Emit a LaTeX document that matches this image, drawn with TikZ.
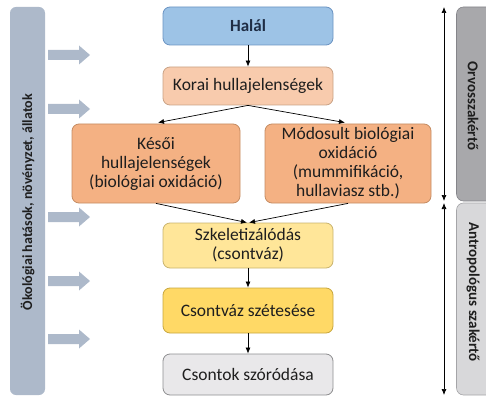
\documentclass[tikz,border=0pt]{standalone}
\usepackage{fontspec}
\setmainfont{Carlito}
\usetikzlibrary{arrows.meta,calc}
\definecolor{halfill}{HTML}{9DC3E6}
\definecolor{haldraw}{HTML}{6A93C2}
\definecolor{korfill}{HTML}{F8CBAD}
\definecolor{kordraw}{HTML}{C9A285}
\definecolor{kesfill}{HTML}{F4B183}
\definecolor{kesdraw}{HTML}{C48C62}
\definecolor{szkfill}{HTML}{FFE699}
\definecolor{szkdraw}{HTML}{C9B36E}
\definecolor{csvfill}{HTML}{FFD966}
\definecolor{csvdraw}{HTML}{C7A63E}
\definecolor{csofill}{HTML}{E9E8EA}
\definecolor{csodraw}{HTML}{8E8E90}
\definecolor{leftbar}{HTML}{ADB9CA}
\definecolor{orvfill}{HTML}{A8A8AB}
\definecolor{orvdraw}{HTML}{85858A}
\definecolor{antfill}{HTML}{D8D8DA}
\definecolor{antdraw}{HTML}{A5A5A8}
\definecolor{txt}{HTML}{1E1E1E}
\definecolor{haltxt}{HTML}{1F2D45}
\tikzset{
  box/.style={draw, rounded corners=7pt, line width=0.8pt, align=center,
    text=txt, font=\fontsize{17.5}{19}\selectfont, inner sep=1pt},
  conn/.style={-{Latex[length=6pt,width=5pt]}, line width=0.7pt, black},
  dbl/.style={{Latex[length=6pt,width=5pt]}-{Latex[length=6pt,width=5pt]}, line width=0.7pt, black},
  sidetxt/.style={font=\bfseries\fontsize{15}{18}\selectfont, text=txt},
  blockarrow/.style={fill=leftbar}
}
\begin{document}
\begin{tikzpicture}[x=1pt,y=-1pt]
\useasboundingbox (0,0) rectangle (486,398);
\clip (0,0) rectangle (486,398);
% left bar
\node[fill=leftbar, rounded corners=6pt, minimum width=35pt, minimum height=388pt, inner sep=0pt] (lb) at (27.5,201) {};
\node[sidetxt, font=\bfseries\fontsize{14}{17}\selectfont, rotate=90] (lbt) at (27.5,202) {Ökológiai hatások, növényzet, állatok};
% block arrows
\foreach \yy/\nm in {55/a1,109/a2,217/a3,281/a4,339/a5}{
  \coordinate (\nm) at (48,\yy);
  \fill[blockarrow] ($(\nm)+(0,-5)$) -- ++(31,0) -- ++(0,-4.5) -- ++(11,9.5) -- ++(-11,9.5) -- ++(0,-4.5) -- ++(-31,0) -- cycle;
}
% right bars
\node[fill=orvfill, draw=orvdraw, line width=0.6pt, rounded corners=7pt, minimum width=45pt, minimum height=194pt, inner sep=0pt] (ob) at (479,104) {};
\node[sidetxt, rotate=-90] (obt) at (473,106) {Orvosszakértő};
\node[fill=antfill, draw=antdraw, line width=0.6pt, rounded corners=7pt, minimum width=45pt, minimum height=192pt, inner sep=0pt] (ab) at (479,299) {};
\node[sidetxt, rotate=-90] (abt) at (473,292) {Antropológus szakértő};
% double arrows
\coordinate (o1) at (444,7);
\coordinate (o2) at (444,201);
\coordinate (a1e) at (444,203);
\coordinate (a2e) at (444,395);
\draw[dbl] (o1) -- (o2);
\draw[dbl] (a1e) -- (a2e);
% main boxes
\node[box, fill=halfill, draw=haldraw, minimum width=170pt, minimum height=38pt, font=\bfseries\fontsize{17}{19}\selectfont, text=haltxt] (hal) at (248,26) {Halál};
\node[box, fill=korfill, draw=kordraw, minimum width=170pt, minimum height=38pt] (kor) at (248,86) {Korai hullajelenségek};
\node[box, fill=kesfill, draw=kesdraw, minimum width=168pt, minimum height=79pt] (kes) at (156,163.5) {Késői\\hullajelenségek\\(biológiai oxidáció)};
\node[box, fill=kesfill, draw=kesdraw, minimum width=166pt, minimum height=79pt] (mod) at (348,163.5) {Módosult biológiai\\oxidáció\\(mummifikáció,\\hullaviasz stb.)};
\node[box, fill=szkfill, draw=szkdraw, minimum width=170pt, minimum height=45pt] (szk) at (248,245.5) {Szkeletizálódás\\(csontváz)};
\node[box, fill=csvfill, draw=csvdraw, minimum width=170pt, minimum height=45pt] (csv) at (248,310.5) {Csontváz szétesése};
\node[box, fill=csofill, draw=csodraw, minimum width=170pt, minimum height=41pt] (cso) at (248,374.5) {Csontok szóródása};
% connectors
\draw[conn] (hal.south) -- (kor.north);
\draw[conn] (kor.south) -- ($(kes.north)+(2,-1)$);
\draw[conn] (kor.south) -- ($(mod.north)+(-3,-1)$);
\draw[conn] (kes.south) -- ($(szk.north)+(-1,0)$);
\draw[conn] (mod.south) -- ($(szk.north)+(1,0)$);
\draw[conn] (szk.south) -- (csv.north);
\draw[conn] (csv.south) -- (cso.north);
\end{tikzpicture}
\end{document}
